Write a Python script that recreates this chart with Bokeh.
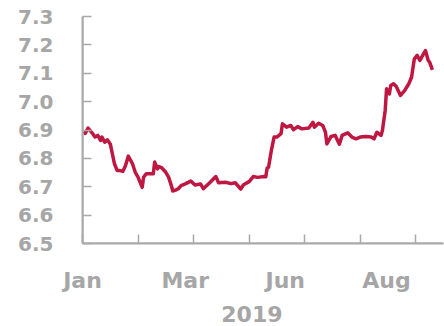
import pandas as pd
from bokeh.plotting import figure
from bokeh.models import Range1d, LinearAxis, FixedTicker, NumeralTickFormatter, Span
from bokeh.embed import file_html
from bokeh.resources import INLINE

# ---- data (USD/CNY, 2019) ----
dates = [
    "2019-01-02", "2019-01-03", "2019-01-05", "2019-01-08", "2019-01-10", "2019-01-12",
    "2019-01-14", "2019-01-15", "2019-01-17", "2019-01-19", "2019-01-21", "2019-01-22",
    "2019-01-24", "2019-01-26", "2019-01-28", "2019-01-30", "2019-02-01", "2019-02-03",
    "2019-02-06", "2019-02-08", "2019-02-10", "2019-02-13", "2019-02-14", "2019-02-16",
    "2019-02-20", "2019-02-21", "2019-02-22", "2019-02-24", "2019-02-25", "2019-02-27",
    "2019-03-02", "2019-03-04", "2019-03-06", "2019-03-07", "2019-03-09", "2019-03-11",
    "2019-03-13", "2019-03-16", "2019-03-20", "2019-03-23", "2019-03-27", "2019-03-29",
    "2019-04-03", "2019-04-07", "2019-04-09", "2019-04-14", "2019-04-18", "2019-04-21",
    "2019-04-25", "2019-04-27", "2019-05-01", "2019-05-04", "2019-05-07", "2019-05-12",
    "2019-05-13", "2019-05-14", "2019-05-15", "2019-05-17", "2019-05-19", "2019-05-21",
    "2019-05-24", "2019-05-25", "2019-05-28", "2019-05-31", "2019-06-02", "2019-06-05",
    "2019-06-08", "2019-06-13", "2019-06-16", "2019-06-17", "2019-06-20", "2019-06-23",
    "2019-06-25", "2019-06-26", "2019-06-29", "2019-07-02", "2019-07-05", "2019-07-07",
    "2019-07-11", "2019-07-14", "2019-07-17", "2019-07-20", "2019-07-24", "2019-07-28",
    "2019-07-30", "2019-08-01", "2019-08-04", "2019-08-05", "2019-08-07", "2019-08-08",
    "2019-08-10", "2019-08-11", "2019-08-13", "2019-08-15", "2019-08-18", "2019-08-21",
    "2019-08-24", "2019-08-26", "2019-08-28", "2019-08-30", "2019-09-01", "2019-09-03",
    "2019-09-05", "2019-09-07", "2019-09-08", "2019-09-10",
]
rates = [
    6.895, 6.888, 6.907, 6.889, 6.875, 6.881,
    6.863, 6.875, 6.857, 6.865, 6.851, 6.828,
    6.781, 6.757, 6.757, 6.754, 6.775, 6.808,
    6.781, 6.751, 6.734, 6.698, 6.734, 6.746,
    6.746, 6.746, 6.787, 6.763, 6.771, 6.767,
    6.751, 6.734, 6.704, 6.685, 6.688, 6.693,
    6.704, 6.710, 6.720, 6.706, 6.710, 6.693,
    6.716, 6.736, 6.714, 6.716, 6.711, 6.714,
    6.692, 6.707, 6.718, 6.736, 6.733, 6.736,
    6.735, 6.766, 6.769, 6.828, 6.875, 6.875,
    6.887, 6.922, 6.910, 6.916, 6.901, 6.912,
    6.904, 6.907, 6.927, 6.910, 6.924, 6.916,
    6.892, 6.851, 6.877, 6.881, 6.850, 6.881,
    6.890, 6.875, 6.869, 6.875, 6.877, 6.875,
    6.869, 6.892, 6.881, 6.898, 6.969, 7.045,
    7.027, 7.057, 7.063, 7.053, 7.022, 7.039,
    7.063, 7.086, 7.151, 7.163, 7.145, 7.163,
    7.180, 7.145, 7.139, 7.112,
]
tick_dates = ["2019-01-01", "2019-02-10", "2019-03-22", "2019-05-01",
              "2019-06-10", "2019-07-20", "2019-08-29"]
label_dates = ["2019-01-01", "2019-03-16", "2019-05-27", "2019-08-08"]
label_texts = ["Jan", "Mar", "Jun", "Aug"]
y_ticks = [6.5, 6.6, 6.7, 6.8, 6.9, 7.0, 7.1, 7.2, 7.3]
year_date = "2019-05-03"
year_text = "2019"

GRAY = "#A6A6A6"
AXIS_GRAY = "darkgray"
RED = "#BE1741"
FONT = "DejaVu Sans"

origin = pd.Timestamp("2019-01-01")


def to_day(ds):
    return [int((pd.Timestamp(d) - origin).days) for d in ds]


x = to_day(dates)

p = figure(width=444, height=326, output_backend="svg", toolbar_location=None,
           x_range=Range1d(0, 260), y_range=Range1d(6.5, 7.3),
           min_border_left=82, min_border_top=16, min_border_right=1,
           min_border_bottom=83)
p.outline_line_color = None
p.grid.visible = False

p.line(x=x, y=rates, line_color=RED, line_width=3.5, line_join="round")

# axis lines along the frame edges
p.add_layout(Span(location=y_ticks[0], dimension="width",
                  line_color=AXIS_GRAY, line_width=2))
p.add_layout(Span(location=to_day(tick_dates)[0], dimension="height",
                  line_color=AXIS_GRAY, line_width=2))

# y axis
ya = p.yaxis[0]
ya.ticker = FixedTicker(ticks=y_ticks, minor_ticks=[])
ya.formatter = NumeralTickFormatter(format="0.0")
ya.major_tick_in = 9
ya.major_tick_out = 0
ya.major_label_standoff = 29
ya.axis_line_color = AXIS_GRAY
ya.axis_line_width = 2
ya.major_tick_line_color = AXIS_GRAY
ya.major_tick_line_width = 1.5
ya.minor_tick_line_color = None
ya.major_label_text_color = GRAY
ya.major_label_text_font = FONT
ya.major_label_text_font_style = "bold"
ya.major_label_text_font_size = "20px"

# x axis: tick marks
tick_days = to_day(tick_dates)
xt = p.xaxis[0]
xt.ticker = FixedTicker(ticks=tick_days, minor_ticks=[])
xt.major_label_overrides = {d: "" for d in tick_days}
xt.major_label_text_font_size = "1px"
xt.major_label_standoff = 0
xt.major_tick_in = 9
xt.major_tick_out = 0
xt.axis_line_color = AXIS_GRAY
xt.axis_line_width = 2
xt.major_tick_line_color = AXIS_GRAY
xt.major_tick_line_width = 1.5
xt.minor_tick_line_color = None

# x axis: month labels
lab_days = to_day(label_dates)
xl = LinearAxis(ticker=FixedTicker(ticks=lab_days, minor_ticks=[]),
                major_label_overrides=dict(zip(lab_days, label_texts)),
                major_tick_in=0, major_tick_out=0, major_label_standoff=24,
                axis_line_color=None, major_tick_line_color=None,
                minor_tick_line_color=None,
                major_label_text_color=GRAY, major_label_text_font=FONT,
                major_label_text_font_style="bold",
                major_label_text_font_size="22px")
p.add_layout(xl, "below")

# x axis: year label
yd = to_day([year_date])
xy = LinearAxis(ticker=FixedTicker(ticks=yd, minor_ticks=[]),
                major_label_overrides={yd[0]: year_text},
                major_tick_in=0, major_tick_out=0, major_label_standoff=10,
                axis_line_color=None, major_tick_line_color=None,
                minor_tick_line_color=None,
                major_label_text_color=GRAY, major_label_text_font=FONT,
                major_label_text_font_style="bold",
                major_label_text_font_size="22px")
p.add_layout(xy, "below")

open("out.html", "w").write(file_html(p, INLINE))
